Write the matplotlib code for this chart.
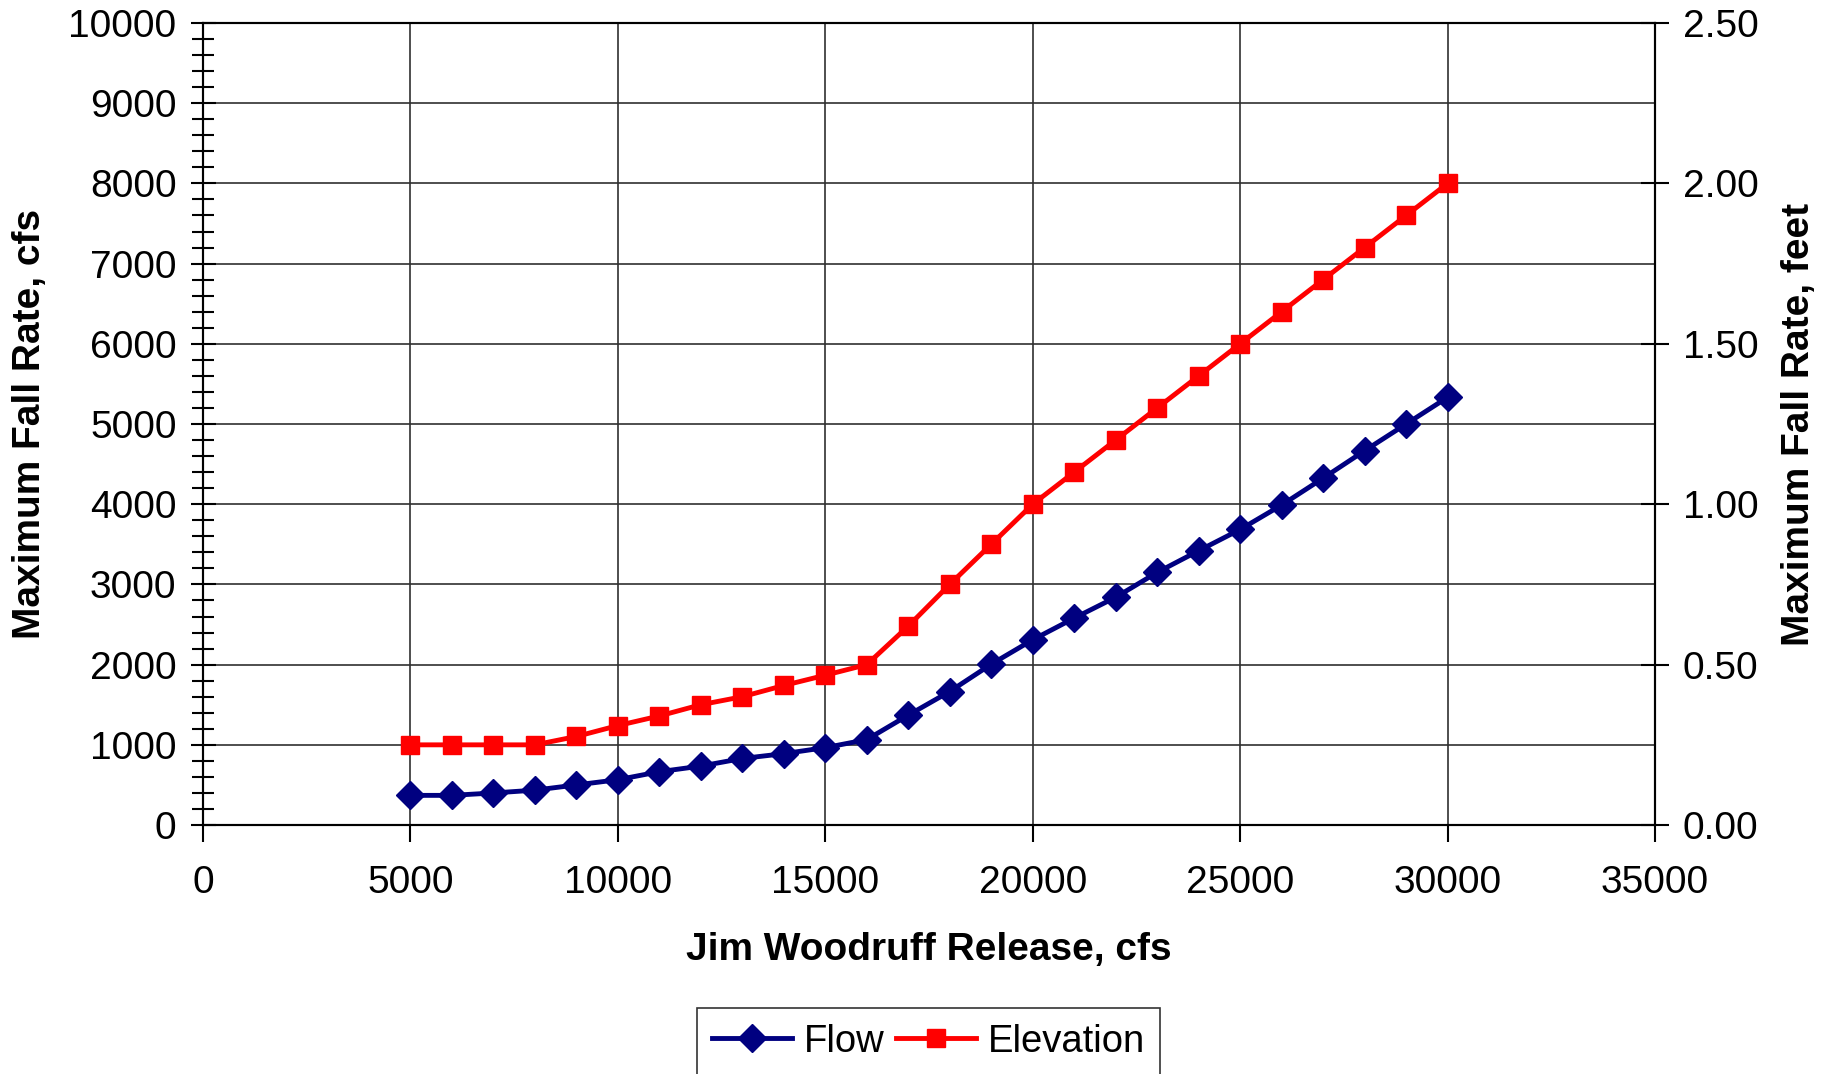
import numpy as np
import matplotlib
matplotlib.use('Agg')
import matplotlib.pyplot as plt
from matplotlib.ticker import MultipleLocator, FormatStrFormatter

plt.rcParams['font.family'] = ['Liberation Sans', 'DejaVu Sans']

release = [5000, 6000, 7000, 8000, 9000, 10000, 11000, 12000, 13000, 14000, 15000,
           16000, 17000, 18000, 19000, 20000, 21000, 22000, 23000, 24000, 25000,
           26000, 27000, 28000, 29000, 30000]
flow_cfs = [370, 370, 400, 435, 500, 565, 665, 735, 830, 890, 965,
            1065, 1370, 1665, 2005, 2310, 2580, 2840, 3150, 3420, 3685,
            3990, 4325, 4667, 5000, 5333]
elev_ft = [0.25, 0.25, 0.25, 0.25, 0.276, 0.31, 0.34, 0.375, 0.40, 0.435, 0.467,
           0.50, 0.62, 0.75, 0.875, 1.00, 1.10, 1.20, 1.30, 1.40, 1.50,
           1.60, 1.70, 1.80, 1.90, 2.00]

FS = 28

fig = plt.figure(figsize=(18.28, 10.74), dpi=100)
ax = fig.add_axes([0.111, 0.2318, 0.7944, 0.7468])
ax2 = ax.twinx()

l1, = ax.plot(release, flow_cfs, color='#000080', lw=3.5, marker='D', ms=14,
              label='Flow', zorder=4)
l2, = ax2.plot(release, elev_ft, color='#ff0000', lw=3.5, marker='s', ms=13,
               label='Elevation', zorder=4)

ax.set_xlim(0, 35000)
ax.set_ylim(0, 10000)
ax2.set_ylim(0, 2.5)
ax.xaxis.set_major_locator(MultipleLocator(5000))
ax.yaxis.set_major_locator(MultipleLocator(1000))
ax.yaxis.set_minor_locator(MultipleLocator(200))
ax2.yaxis.set_major_locator(MultipleLocator(0.5))
ax2.yaxis.set_major_formatter(FormatStrFormatter('%.2f'))

ax.grid(True, which='major', color='#303030', lw=1.2)
ax.set_axisbelow(True)

ax.tick_params(axis='y', which='major', direction='inout', length=18, width=1.5,
               labelsize=FS, pad=10)
ax.tick_params(axis='y', which='minor', direction='inout', length=16, width=1.5)
ax.tick_params(axis='x', direction='out', length=12, width=1.5, labelsize=FS, pad=17)
ax2.tick_params(axis='y', direction='inout', length=20, width=1.5, labelsize=FS, pad=10)

for a in (ax, ax2):
    for s in a.spines.values():
        s.set_color('black')
        s.set_linewidth(1.5)

ax.set_xlabel('Jim Woodruff Release, cfs', fontsize=FS, fontweight='bold', labelpad=22)
ax.set_ylabel('Maximum Fall Rate, cfs', fontsize=FS, fontweight='bold', labelpad=15)
ax2.set_ylabel('Maximum Fall Rate, feet', fontsize=FS, fontweight='bold', labelpad=16)

leg = fig.legend(handles=[l1, l2], loc='upper center', bbox_to_anchor=(0.508, 0.061),
                 ncol=2, fontsize=27.5, frameon=True, fancybox=False, handlelength=2.1,
                 handletextpad=0.3, columnspacing=0.3, borderpad=0.4, borderaxespad=0)
leg.get_frame().set_edgecolor('black')
leg.get_frame().set_linewidth(1.2)

fig.savefig('out.png', dpi=100)
